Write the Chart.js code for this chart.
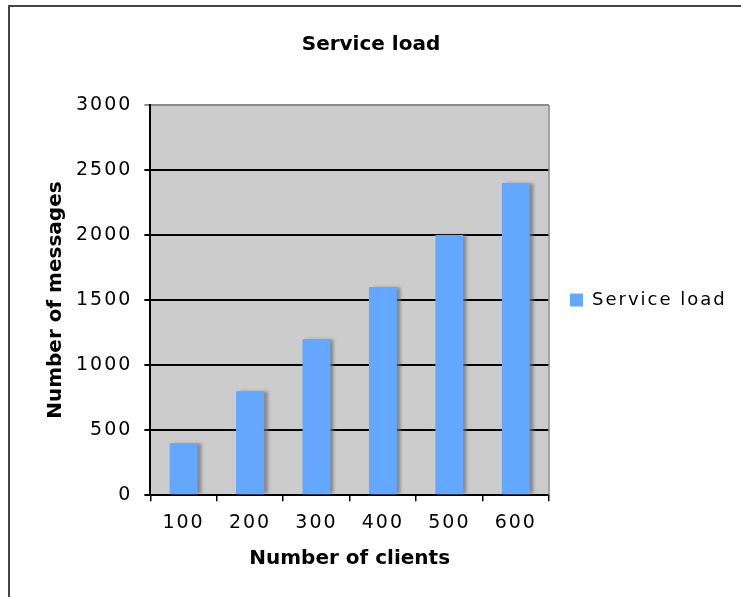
<!DOCTYPE html>
<html>
<head>
<meta charset="utf-8">
<title>Service load</title>
<script src="https://cdn.jsdelivr.net/npm/chart.js@4.4.1/dist/chart.umd.min.js"></script>
<style>
    html, body { margin: 0; padding: 0; background: #fff; }
    #wrap { position: relative; width: 741px; height: 597px; }
</style>
</head>
<body>
<div id="wrap"><canvas id="loadChart"></canvas></div>
<script>
// data
const clients = ['100', '200', '300', '400', '500', '600'];
const messages = [400, 800, 1200, 1600, 2000, 2400];
const yMax = 3000;
const yStep = 500;

// regular labels are spread out a little, bold titles are not
const spacedText = {
    id: 'spacedText',
    beforeInit(chart) {
        const ctx = chart.ctx;
        const fill = ctx.fillText;
        const measure = ctx.measureText;
        const pick = () => { ctx.letterSpacing = ctx.font.indexOf('bold') >= 0 ? '0px' : '2px'; };
        ctx.fillText = function(...args) { pick(); return fill.apply(ctx, args); };
        ctx.measureText = function(...args) { pick(); return measure.apply(ctx, args); };
    }
};

// grey plot area + outer frame of the figure
const plotFrame = {
    id: 'plotFrame',
    beforeDraw(chart) {
        const { ctx, chartArea: a } = chart;
        ctx.save();
        ctx.fillStyle = '#cccccc';
        ctx.fillRect(a.left, a.top, a.right - a.left, a.bottom - a.top);
        ctx.strokeStyle = '#444';
        ctx.lineWidth = 2;
        ctx.beginPath();
        ctx.moveTo(9, chart.height);
        ctx.lineTo(9, 6);
        ctx.lineTo(chart.width, 6);
        ctx.stroke();
        ctx.restore();
    },
    afterDatasetsDraw(chart) {
        const { ctx, chartArea: a } = chart;
        ctx.save();
        ctx.strokeStyle = '#8c8c8c';
        ctx.lineWidth = 1.5;
        ctx.beginPath();
        ctx.moveTo(a.right, a.top);
        ctx.lineTo(a.right, a.bottom);
        ctx.stroke();
        ctx.restore();
    }
};

// soft shadow to the right of each bar
const barShadow = {
    id: 'barShadow',
    beforeDatasetDraw(chart) {
        const ctx = chart.ctx;
        ctx.save();
        ctx.shadowColor = 'rgba(110, 110, 110, 0.7)';
        ctx.shadowOffsetX = 4;
        ctx.shadowOffsetY = 0;
        ctx.shadowBlur = 3;
    },
    afterDatasetDraw(chart) {
        chart.ctx.restore();
    }
};

document.addEventListener('DOMContentLoaded', function() {
    const ctx = document.getElementById('loadChart').getContext('2d');
    new Chart(ctx, {
        type: 'bar',
        data: {
            labels: clients,
            datasets: [{
                label: 'Service load',
                data: messages,
                backgroundColor: '#63a7ff',
                borderWidth: 0,
                barPercentage: 0.42,
                categoryPercentage: 1
            }]
        },
        options: {
            responsive: true,
            maintainAspectRatio: false,
            animation: false,
            layout: { padding: { top: 0, left: 15, right: 14, bottom: 26 } },
            plugins: {
                title: {
                    display: true,
                    text: 'Service load',
                    color: '#000',
                    font: { family: 'DejaVu Sans', size: 20, weight: 'bold' },
                    padding: { top: 33, bottom: 48 }
                },
                legend: {
                    position: 'right',
                    fullSize: false,
                    labels: {
                        color: '#000',
                        font: { family: 'DejaVu Sans', size: 18 },
                        boxWidth: 13,
                        boxHeight: 13,
                        padding: 21
                    }
                },
                tooltip: { enabled: false }
            },
            scales: {
                x: {
                    grid: {
                        offset: true,
                        drawOnChartArea: false,
                        color: '#000',
                        lineWidth: 1.5,
                        tickLength: 6
                    },
                    border: { color: '#000', width: 2 },
                    ticks: {
                        color: '#000',
                        font: { family: 'DejaVu Sans', size: 19 },
                        padding: 10
                    },
                    title: {
                        display: true,
                        text: 'Number of clients',
                        color: '#000',
                        font: { family: 'DejaVu Sans', size: 20, weight: 'bold' },
                        padding: { top: 3, bottom: 0 }
                    }
                },
                y: {
                    min: 0,
                    max: yMax,
                    grid: {
                        color: (c) => (c.tick && c.tick.value === yMax) ? '#8c8c8c' : '#000',
                        lineWidth: 2,
                        tickLength: 6
                    },
                    border: { color: '#000', width: 2 },
                    ticks: {
                        stepSize: yStep,
                        color: '#000',
                        font: { family: 'DejaVu Sans', size: 19 },
                        padding: 12,
                        callback: (v) => String(v)
                    },
                    title: {
                        display: true,
                        text: 'Number of messages',
                        color: '#000',
                        font: { family: 'DejaVu Sans', size: 20, weight: 'bold' },
                        padding: { top: 29, bottom: -4 }
                    }
                }
            }
        },
        plugins: [spacedText, plotFrame, barShadow]
    });
});
</script>
</body>
</html>
